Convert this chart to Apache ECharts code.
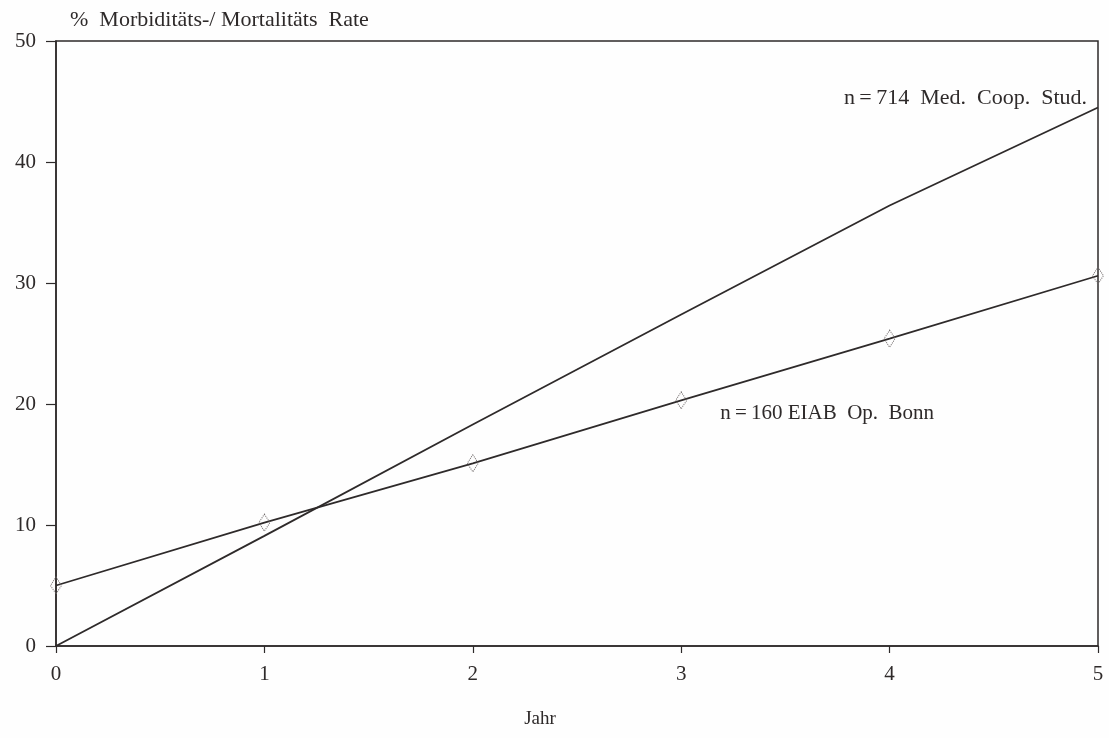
<!DOCTYPE html>
<html>
<head>
<meta charset="utf-8">
<script src="https://cdn.jsdelivr.net/npm/echarts@6/dist/echarts.min.js"></script>
<style>
html,body{margin:0;padding:0;background:#fff;}
#chart{width:1109px;height:738px;}
</style>
</head>
<body>
<div id="chart"></div>
<script>
const years = [0, 1, 2, 3, 4, 5];
const medCoop = [0, 9.1, 18.3, 27.4, 36.4, 44.5];
const eiabBonn = [5, 10.2, 15.1, 20.3, 25.4, 30.6];
const yTicks = [0, 10, 20, 30, 40, 50];
const xTicks = [0, 1, 2, 3, 4, 5];
const titleText = '%  Morbiditäts-/ Mortalitäts  Rate';
const xName = 'Jahr';
const medLabel = 'n\u2009=\u2009714  Med.  Coop.  Stud.';
const eiabLabel = 'n\u2009=\u2009160 EIAB  Op.  Bonn';

const serif = '"Liberation Serif", "DejaVu Serif", serif';
const ink = '#2e2a2a';

const chart = echarts.init(document.getElementById('chart'));
chart.setOption({
  backgroundColor: '#fefefe',
  animation: false,
  title: {
    text: titleText,
    left: 65, top: 4,
    textStyle: { fontFamily: serif, fontSize: 22, fontWeight: 'normal', color: ink }
  },
  grid: {
    left: 56, right: 11, top: 41, bottom: 92,
    show: true, borderColor: ink, borderWidth: 1.5, backgroundColor: 'transparent'
  },
  xAxis: {
    type: 'value', min: 0, max: 5, interval: 1,
    name: xName, nameLocation: 'middle', nameGap: 64,
    nameTextStyle: { fontFamily: serif, fontSize: 19, color: ink, padding: [0, 74, 0, 0] },
    axisLine: { show: true, lineStyle: { color: ink, width: 1.5 } },
    axisTick: { show: true, inside: false, length: 7, lineStyle: { color: ink, width: 1.2 } },
    axisLabel: { fontFamily: serif, fontSize: 21, color: ink, margin: 18,
      formatter: v => xTicks.includes(v) ? String(v) : '' },
    splitLine: { show: false }
  },
  yAxis: {
    type: 'value', min: 0, max: 50, interval: 10,
    axisLine: { show: true, lineStyle: { color: ink, width: 1.5 } },
    axisTick: { show: true, inside: false, length: 10, lineStyle: { color: ink, width: 1.2 } },
    axisLabel: { fontFamily: serif, fontSize: 21, color: ink, margin: 20,
      formatter: v => yTicks.includes(v) ? String(v) : '' },
    splitLine: { show: false }
  },
  series: [
    {
      name: 'Med. Coop. Stud.',
      type: 'line',
      data: years.map((x, i) => [x, medCoop[i]]),
      symbol: 'none',
      lineStyle: { color: ink, width: 1.8 },
      markPoint: {
        symbol: 'circle', symbolSize: 0,
        data: [{ coord: [years[5], medCoop[5]] }],
        label: { show: true, formatter: medLabel, position: 'inside', align: 'right',
          verticalAlign: 'middle', offset: [-11, -9],
          fontFamily: serif, fontSize: 22, color: ink }
      }
    },
    {
      name: 'EIAB Op. Bonn',
      type: 'line',
      data: years.map((x, i) => [x, eiabBonn[i]]),
      symbol: 'diamond', symbolSize: [11, 17],
      itemStyle: { color: 'transparent', borderColor: '#6a6464', borderWidth: 1, borderType: 'dotted' },
      lineStyle: { color: ink, width: 1.8 },
      markPoint: {
        symbol: 'circle', symbolSize: 0,
        data: [{ coord: [years[3], eiabBonn[3]] }],
        label: { show: true, formatter: eiabLabel, position: 'inside', align: 'left',
          verticalAlign: 'middle', offset: [39, 13],
          fontFamily: serif, fontSize: 21, color: ink }
      }
    }
  ]
});
</script>
</body>
</html>
